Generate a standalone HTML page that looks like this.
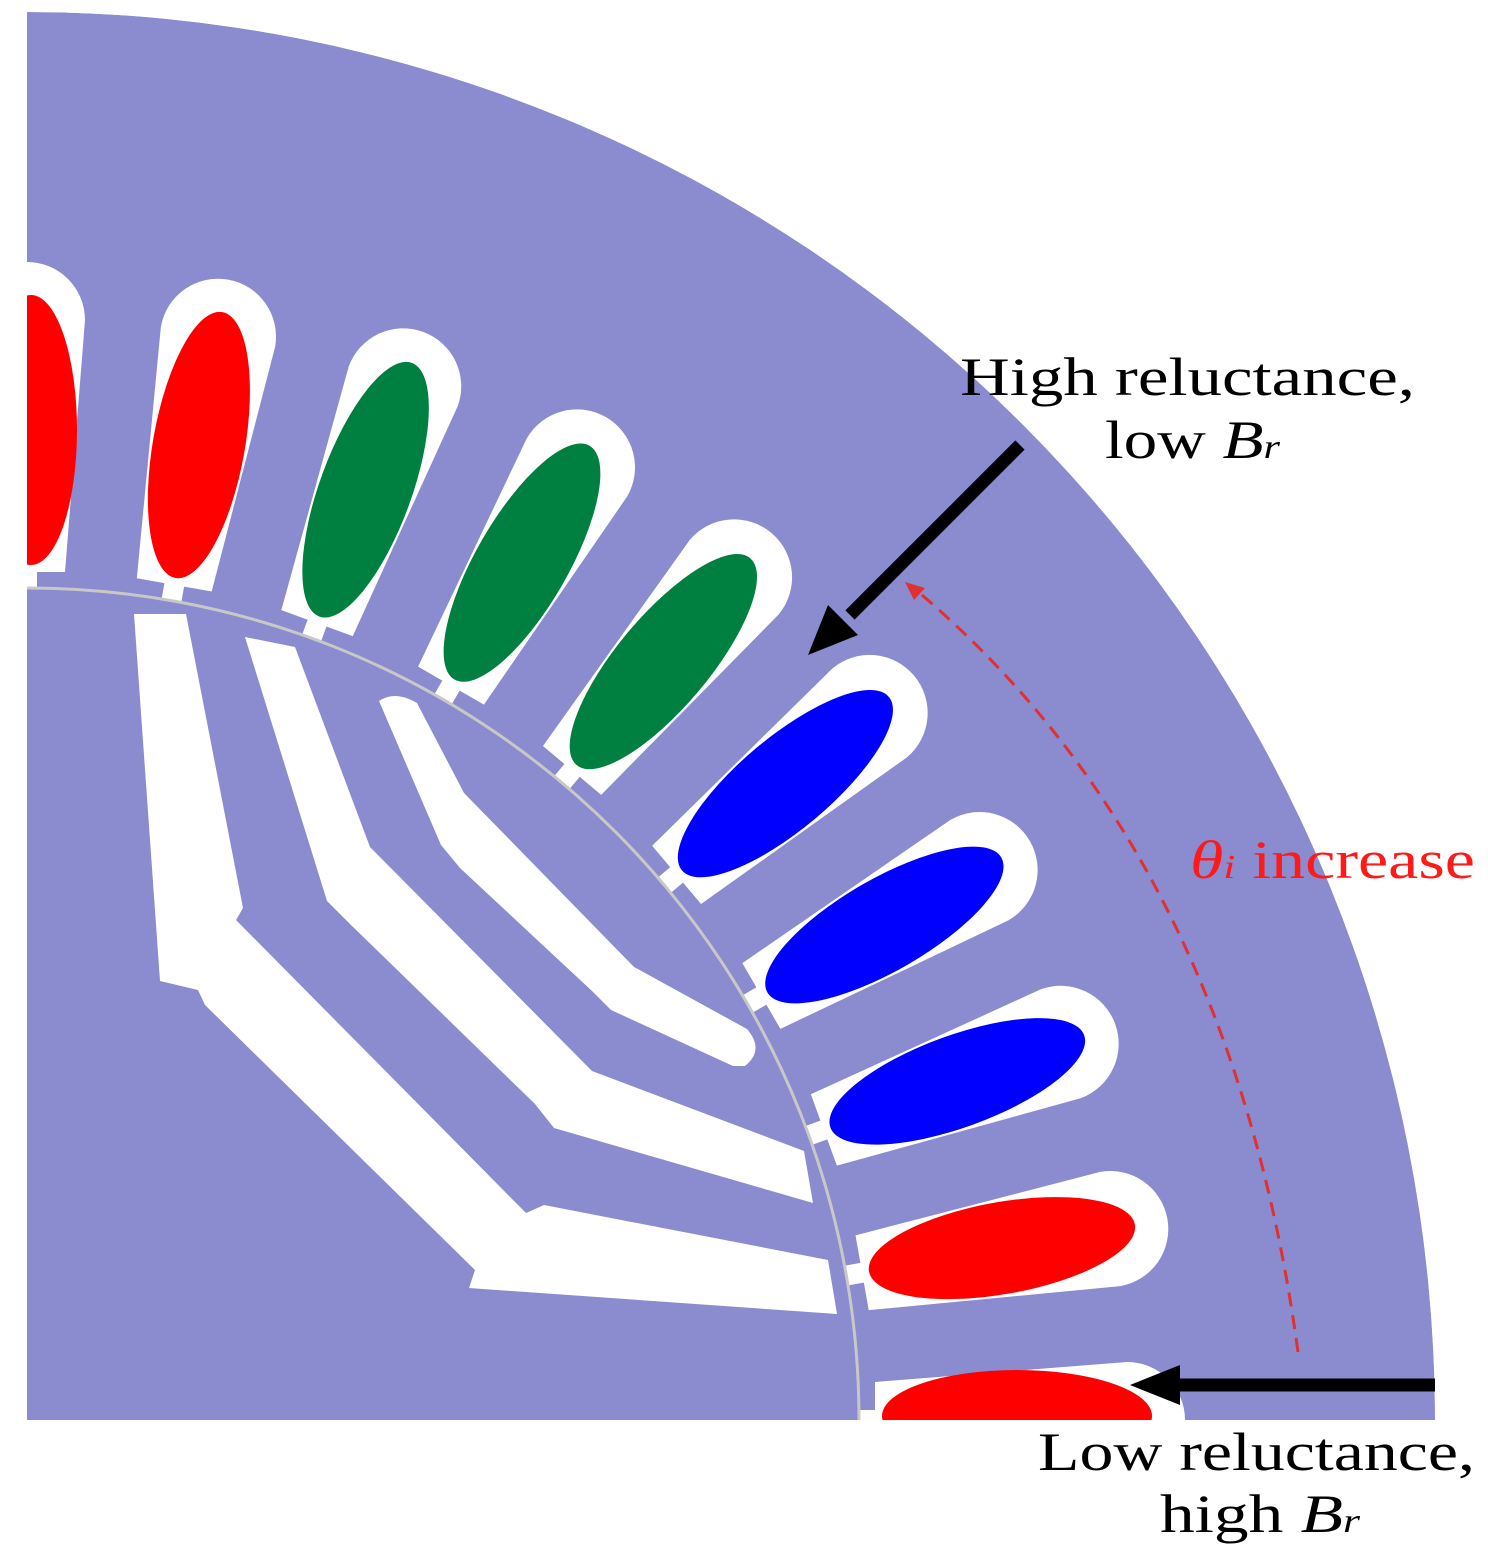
<!DOCTYPE html>
<html><head><meta charset="utf-8"><style>
html,body{margin:0;padding:0;background:#fff;overflow:hidden;width:1488px;height:1557px}
svg{display:block}
</style></head><body>
<svg width="1488" height="1557" viewBox="0 0 1488 1557" xmlns="http://www.w3.org/2000/svg">
<defs>
<clipPath id="q"><path d="M27,1420 L27,12 A1408,1408 0 0 1 1435,1420 Z"/></clipPath>
<g id="slot">
  <path d="M848,-38 L1100,-58 A58 58 0 0 1 1100,58 L848,38 Z" fill="#fff"/>
  <rect x="826" y="-10" width="30" height="20" fill="#fff"/>
</g>
</defs>
<g clip-path="url(#q)">
<path d="M27,1420 L27,12 A1408,1408 0 0 1 1435,1420 Z" fill="#8b8bd0"/>
<g transform="translate(27,1420)">
  <g transform="rotate(0)"><use href="#slot"/><ellipse cx="990" cy="-4" rx="135" ry="46" fill="#f00"/></g>
  <g transform="rotate(-10)"><use href="#slot"/><ellipse cx="990" cy="0" rx="135" ry="46" fill="#f00"/></g>
  <g transform="rotate(-20)"><use href="#slot"/><ellipse cx="990" cy="0" rx="135" ry="46" fill="#00f"/></g>
  <g transform="rotate(-30)"><use href="#slot"/><ellipse cx="990" cy="0" rx="135" ry="46" fill="#00f"/></g>
  <g transform="rotate(-40)"><use href="#slot"/><ellipse cx="990" cy="0" rx="135" ry="46" fill="#00f"/></g>
  <g transform="rotate(-50)"><use href="#slot"/><ellipse cx="990" cy="0" rx="135" ry="46" fill="#008040"/></g>
  <g transform="rotate(-60)"><use href="#slot"/><ellipse cx="990" cy="0" rx="135" ry="46" fill="#008040"/></g>
  <g transform="rotate(-70)"><use href="#slot"/><ellipse cx="990" cy="0" rx="135" ry="46" fill="#008040"/></g>
  <g transform="rotate(-80)"><use href="#slot"/><ellipse cx="990" cy="0" rx="135" ry="46" fill="#f00"/></g>
  <g transform="rotate(-90)"><use href="#slot"/><ellipse cx="990" cy="4" rx="135" ry="46" fill="#f00"/></g>
</g>
<circle cx="27" cy="1420" r="832" fill="#8b8bd0" stroke="#c8c8c8" stroke-width="3"/>
<path d="M134,614 L186,614 L243,908 L236,920 L526,1213 L544,1205 L828,1260 L837,1314 L469,1288 L475,1270 L205,1005 L198,990 L160,981 Z" fill="#fff"/>
<path d="M245,637 L295,647 L370,847 L592,1071 L804,1151 L813,1203 L554,1128 L535,1104 L351,925 L327,901 Z" fill="#fff"/>
<path d="M379,701 Q395,690 417,703 L464,793 L634,967 L747,1029 Q765,1050 745,1066 L733,1066 L611,1010 L592,991 L460,868 L441,845 Z" fill="#fff"/>
</g>
<line x1="1020" y1="445" x2="850" y2="615" stroke="#000" stroke-width="13"/>
<path d="M808,655 L828,605 L858,635 Z" fill="#000"/>
<line x1="1435" y1="1385" x2="1175" y2="1385" stroke="#000" stroke-width="13"/>
<path d="M1130,1385 L1180,1365 L1180,1405 Z" fill="#000"/>
<path d="M1298,1352 Q1230,850 910,585" fill="none" stroke="#e03030" stroke-width="3" stroke-dasharray="14,9"/>
<path d="M905,582 L925,588 L914,600 Z" fill="#e03030"/>
<g font-family="Liberation Serif, serif" font-size="54">
<text x="960" y="395" textLength="455" lengthAdjust="spacingAndGlyphs">High reluctance,</text>
<text x="1105" y="458" textLength="175" lengthAdjust="spacingAndGlyphs">low <tspan font-style="italic">B</tspan><tspan font-size="34" font-style="italic">r</tspan></text>
<text x="1038" y="1470" textLength="437" lengthAdjust="spacingAndGlyphs">Low reluctance,</text>
<text x="1160" y="1532" textLength="200" lengthAdjust="spacingAndGlyphs">high <tspan font-style="italic">B</tspan><tspan font-size="34" font-style="italic">r</tspan></text>
<text x="1190" y="878" fill="#ff1a1a" textLength="285" lengthAdjust="spacingAndGlyphs"><tspan font-style="italic">θ</tspan><tspan font-size="34" font-style="italic">i</tspan> increase</text>
</g>
</svg>
</body></html>
